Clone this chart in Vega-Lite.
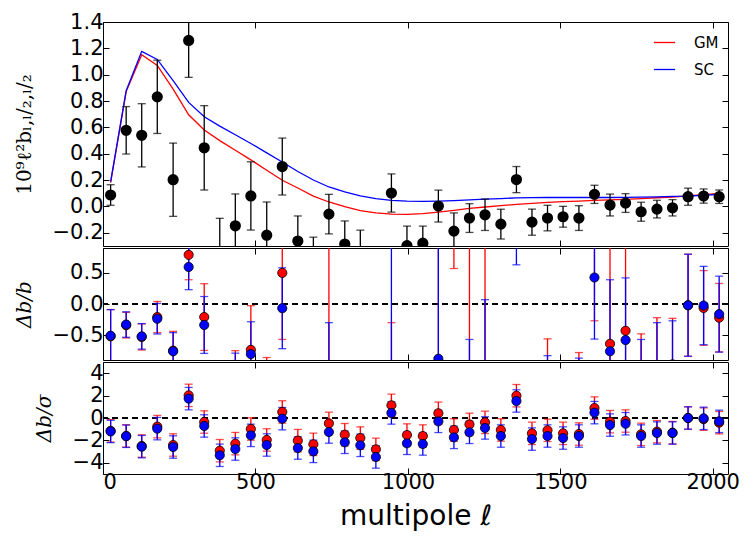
{
"$schema": "https://vega.github.io/schema/vega-lite/v6.json",
"padding": {"left": 13, "top": 10, "right": 5, "bottom": 5},
"spacing": 0,
"config": {
  "view": {"stroke": "black", "strokeWidth": 1},
  "font": "DejaVu Sans",
  "axis": {"grid": false, "domain": false, "tickColor": "black", "tickSize": -6, "tickWidth": 1, "labelFont": "DejaVu Sans", "labelFontSize": 21, "labelColor": "black", "titleColor": "black", "titleFontWeight": "normal", "labelPadding": 3},
  "axisLeft": {"labelPadding": 6, "titlePadding": 18, "titleFont": "DejaVu Serif", "titleFontSize": 20}
},
"datasets": {
  "top": [
    {"l":25,"v":0.087,"e":0.078},{"l":76,"v":0.578,"e":0.18},{"l":127,"v":0.54,"e":0.24},{"l":178,"v":0.832,"e":0.278},
    {"l":230,"v":0.203,"e":0.278},{"l":281,"v":1.26,"e":0.28},{"l":332,"v":0.445,"e":0.32},{"l":383,"v":-0.4,"e":0.31},
    {"l":434,"v":-0.147,"e":0.242},{"l":485,"v":0.08,"e":0.259},{"l":537,"v":-0.218,"e":0.252},{"l":588,"v":0.303,"e":0.216},
    {"l":639,"v":-0.262,"e":0.19},{"l":690,"v":-0.465,"e":0.232},{"l":741,"v":-0.058,"e":0.15},{"l":793,"v":-0.285,"e":0.175},
    {"l":844,"v":-0.367,"e":0.187},{"l":895,"v":-0.496,"e":0.16},{"l":946,"v":0.102,"e":0.145},{"l":997,"v":-0.297,"e":0.148},
    {"l":1049,"v":-0.279,"e":0.13},{"l":1100,"v":0.003,"e":0.121},{"l":1151,"v":-0.187,"e":0.138},{"l":1202,"v":-0.088,"e":0.109},
    {"l":1253,"v":-0.063,"e":0.119},{"l":1305,"v":-0.134,"e":0.113},{"l":1356,"v":0.204,"e":0.099},{"l":1407,"v":-0.119,"e":0.099},
    {"l":1458,"v":-0.088,"e":0.097},{"l":1509,"v":-0.078,"e":0.079},{"l":1561,"v":-0.088,"e":0.094},{"l":1612,"v":0.092,"e":0.069},
    {"l":1663,"v":0.011,"e":0.083},{"l":1714,"v":0.026,"e":0.071},{"l":1765,"v":-0.04,"e":0.072},{"l":1817,"v":-0.02,"e":0.067},
    {"l":1868,"v":-0.01,"e":0.062},{"l":1919,"v":0.074,"e":0.065},{"l":1970,"v":0.079,"e":0.054},{"l":2021,"v":0.074,"e":0.051}
  ],
  "mod": [
    {"l":25,"m":"GM","v":0.181},{"l":76,"m":"GM","v":0.872},{"l":127,"m":"GM","v":1.151},{"l":178,"m":"GM","v":1.07},
    {"l":230,"m":"GM","v":0.89},{"l":281,"m":"GM","v":0.696},{"l":332,"m":"GM","v":0.58},{"l":383,"m":"GM","v":0.5},
    {"l":434,"m":"GM","v":0.427},{"l":485,"m":"GM","v":0.354},{"l":537,"m":"GM","v":0.275},{"l":588,"m":"GM","v":0.199},
    {"l":639,"m":"GM","v":0.14},{"l":690,"m":"GM","v":0.079},{"l":741,"m":"GM","v":0.034},{"l":793,"m":"GM","v":-0.002},
    {"l":844,"m":"GM","v":-0.032},{"l":895,"m":"GM","v":-0.048},{"l":946,"m":"GM","v":-0.058},{"l":997,"m":"GM","v":-0.06},
    {"l":1049,"m":"GM","v":-0.055},{"l":1100,"m":"GM","v":-0.043},{"l":1151,"m":"GM","v":-0.03},{"l":1202,"m":"GM","v":-0.015},
    {"l":1253,"m":"GM","v":-0.004},{"l":1305,"m":"GM","v":0.006},{"l":1356,"m":"GM","v":0.016},{"l":1407,"m":"GM","v":0.024},
    {"l":1458,"m":"GM","v":0.031},{"l":1509,"m":"GM","v":0.037},{"l":1561,"m":"GM","v":0.041},{"l":1612,"m":"GM","v":0.046},
    {"l":1663,"m":"GM","v":0.05},{"l":1714,"m":"GM","v":0.054},{"l":1765,"m":"GM","v":0.06},{"l":1817,"m":"GM","v":0.066},
    {"l":1868,"m":"GM","v":0.072},{"l":1919,"m":"GM","v":0.08},{"l":1970,"m":"GM","v":0.09},{"l":2021,"m":"GM","v":0.1},
    {"l":25,"m":"SC","v":0.189},{"l":76,"m":"SC","v":0.879},{"l":127,"m":"SC","v":1.177},{"l":178,"m":"SC","v":1.116},
    {"l":230,"m":"SC","v":0.955},{"l":281,"m":"SC","v":0.79},{"l":332,"m":"SC","v":0.681},{"l":383,"m":"SC","v":0.61},
    {"l":434,"m":"SC","v":0.544},{"l":485,"m":"SC","v":0.478},{"l":537,"m":"SC","v":0.407},{"l":588,"m":"SC","v":0.338},
    {"l":639,"m":"SC","v":0.265},{"l":690,"m":"SC","v":0.201},{"l":741,"m":"SC","v":0.148},{"l":793,"m":"SC","v":0.11},
    {"l":844,"m":"SC","v":0.08},{"l":895,"m":"SC","v":0.059},{"l":946,"m":"SC","v":0.046},{"l":997,"m":"SC","v":0.04},
    {"l":1049,"m":"SC","v":0.039},{"l":1100,"m":"SC","v":0.041},{"l":1151,"m":"SC","v":0.045},{"l":1202,"m":"SC","v":0.05},
    {"l":1253,"m":"SC","v":0.055},{"l":1305,"m":"SC","v":0.06},{"l":1356,"m":"SC","v":0.065},{"l":1407,"m":"SC","v":0.067},
    {"l":1458,"m":"SC","v":0.068},{"l":1509,"m":"SC","v":0.068},{"l":1561,"m":"SC","v":0.068},{"l":1612,"m":"SC","v":0.068},
    {"l":1663,"m":"SC","v":0.068},{"l":1714,"m":"SC","v":0.069},{"l":1765,"m":"SC","v":0.071},{"l":1817,"m":"SC","v":0.073},
    {"l":1868,"m":"SC","v":0.076},{"l":1919,"m":"SC","v":0.079},{"l":1970,"m":"SC","v":0.085},{"l":2021,"m":"SC","v":0.092}
  ],
  "cmp": [
    {"l":25,"m":"GM","r":-0.52,"re":0.43,"s":-1.15,"se":1},{"l":76,"m":"GM","r":-0.34,"re":0.206,"s":-1.6,"se":1},
    {"l":127,"m":"GM","r":-0.53,"re":0.21,"s":-2.5,"se":1},{"l":178,"m":"GM","r":-0.21,"re":0.25,"s":-0.77,"se":1},
    {"l":230,"m":"GM","r":-0.75,"re":0.31,"s":-2.41,"se":1},{"l":281,"m":"GM","r":0.79,"re":0.4,"s":2.02,"se":1},
    {"l":332,"m":"GM","r":-0.21,"re":0.536,"s":-0.36,"se":1},{"l":383,"m":"GM","r":-1.79,"re":0.61,"s":-2.92,"se":1},
    {"l":434,"m":"GM","r":-1.33,"re":0.58,"s":-2.29,"se":1},{"l":485,"m":"GM","r":-0.737,"re":0.71,"s":-0.98,"se":1},
    {"l":537,"m":"GM","r":-1.79,"re":0.93,"s":-1.96,"se":1},{"l":588,"m":"GM","r":0.5,"re":1.07,"s":0.54,"se":1},
    {"l":639,"m":"GM","r":-2.86,"re":1.36,"s":-2.02,"se":1},{"l":690,"m":"GM","r":-6.9,"re":2.9,"s":-2.35,"se":1},
    {"l":741,"m":"GM","r":-2.7,"re":4.4,"s":-0.48,"se":1},{"l":793,"m":"GM","r":5.4,"re":3.6,"s":-1.49,"se":1},
    {"l":844,"m":"GM","r":10.5,"re":5.8,"s":-1.79,"se":1},{"l":895,"m":"GM","r":9.3,"re":3.3,"s":-2.8,"se":1},
    {"l":946,"m":"GM","r":-2.76,"re":2.46,"s":1.13,"se":1},{"l":997,"m":"GM","r":3.95,"re":2.5,"s":-1.52,"se":1},
    {"l":1049,"m":"GM","r":4.1,"re":2.4,"s":-1.61,"se":1},{"l":1100,"m":"GM","r":-1.07,"re":2.8,"s":0.42,"se":1},
    {"l":1151,"m":"GM","r":5.2,"re":4.63,"s":-1.07,"se":1},{"l":1202,"m":"GM","r":4.9,"re":7.3,"s":-0.57,"se":1},
    {"l":1253,"m":"GM","r":15,"re":30,"s":-0.39,"se":1},{"l":1305,"m":"GM","r":12,"re":10,"s":-1.07,"se":1},
    {"l":1356,"m":"GM","r":12,"re":6,"s":1.99,"se":1},{"l":1407,"m":"GM","r":-5.8,"re":4,"s":-1.37,"se":1},
    {"l":1458,"m":"GM","r":-3.6,"re":3.04,"s":-1.1,"se":1},{"l":1509,"m":"GM","r":-3.17,"re":2.2,"s":-1.37,"se":1},
    {"l":1561,"m":"GM","r":-3.15,"re":2.37,"s":-1.43,"se":1},{"l":1612,"m":"GM","r":1.2,"re":1.47,"s":0.89,"se":1},
    {"l":1663,"m":"GM","r":-0.64,"re":1.75,"s":-0.33,"se":1},{"l":1714,"m":"GM","r":-0.43,"re":1.5,"s":-0.27,"se":1},
    {"l":1765,"m":"GM","r":-1.78,"re":1.3,"s":-1.46,"se":1},{"l":1817,"m":"GM","r":-1.22,"re":1.0,"s":-1.22,"se":1},
    {"l":1868,"m":"GM","r":-0.97,"re":0.74,"s":-1.31,"se":1},{"l":1919,"m":"GM","r":-0.02,"re":0.82,"s":0.0,"se":1},
    {"l":1970,"m":"GM","r":-0.063,"re":0.6,"s":-0.1,"se":1},{"l":2021,"m":"GM","r":-0.22,"re":0.55,"s":-0.42,"se":1},
    {"l":25,"m":"SC","r":-0.51,"re":0.42,"s":-1.2,"se":1},{"l":76,"m":"SC","r":-0.33,"re":0.205,"s":-1.63,"se":1},
    {"l":127,"m":"SC","r":-0.52,"re":0.205,"s":-2.56,"se":1},{"l":178,"m":"SC","r":-0.237,"re":0.245,"s":-0.95,"se":1},
    {"l":230,"m":"SC","r":-0.76,"re":0.3,"s":-2.59,"se":1},{"l":281,"m":"SC","r":0.595,"re":0.365,"s":1.73,"se":1},
    {"l":332,"m":"SC","r":-0.337,"re":0.457,"s":-0.71,"se":1},{"l":383,"m":"SC","r":-1.65,"re":0.5,"s":-3.33,"se":1},
    {"l":434,"m":"SC","r":-1.25,"re":0.46,"s":-2.77,"se":1},{"l":485,"m":"SC","r":-0.805,"re":0.52,"s":-1.55,"se":1},
    {"l":537,"m":"SC","r":-1.54,"re":0.6,"s":-2.41,"se":1},{"l":588,"m":"SC","r":-0.068,"re":0.65,"s":-0.06,"se":1},
    {"l":639,"m":"SC","r":-1.98,"re":0.72,"s":-2.68,"se":1},{"l":690,"m":"SC","r":-3.3,"re":1.15,"s":-2.98,"se":1},
    {"l":741,"m":"SC","r":-1.42,"re":1.12,"s":-1.25,"se":1},{"l":793,"m":"SC","r":-3.6,"re":1.6,"s":-2.17,"se":1},
    {"l":844,"m":"SC","r":-5.6,"re":2.3,"s":-2.44,"se":1},{"l":895,"m":"SC","r":-9.4,"re":2.7,"s":-3.48,"se":1},
    {"l":946,"m":"SC","r":1.22,"re":3.15,"s":0.45,"se":1},{"l":997,"m":"SC","r":-8.4,"re":3.7,"s":-2.26,"se":1},
    {"l":1049,"m":"SC","r":-8.2,"re":3.3,"s":-2.32,"se":1},{"l":1100,"m":"SC","r":-0.88,"re":2.95,"s":-0.3,"se":1},
    {"l":1151,"m":"SC","r":-5.2,"re":3.1,"s":-1.73,"se":1},{"l":1202,"m":"SC","r":-2.77,"re":2.2,"s":-1.28,"se":1},
    {"l":1253,"m":"SC","r":-2.05,"re":2.12,"s":-0.89,"se":1},{"l":1305,"m":"SC","r":-3.6,"re":2.2,"s":-1.61,"se":1},
    {"l":1356,"m":"SC","r":2.05,"re":1.42,"s":1.52,"se":1},{"l":1407,"m":"SC","r":-2.75,"re":1.46,"s":-1.88,"se":1},
    {"l":1458,"m":"SC","r":-2.25,"re":1.42,"s":-1.61,"se":1},{"l":1509,"m":"SC","r":-2.15,"re":1.17,"s":-1.79,"se":1},
    {"l":1561,"m":"SC","r":-2.3,"re":1.43,"s":-1.61,"se":1},{"l":1612,"m":"SC","r":0.426,"re":0.99,"s":0.48,"se":1},
    {"l":1663,"m":"SC","r":-0.76,"re":1.15,"s":-0.63,"se":1},{"l":1714,"m":"SC","r":-0.58,"re":1.0,"s":-0.51,"se":1},
    {"l":1765,"m":"SC","r":-1.67,"re":1.1,"s":-1.61,"se":1},{"l":1817,"m":"SC","r":-1.18,"re":0.88,"s":-1.34,"se":1},
    {"l":1868,"m":"SC","r":-1.06,"re":0.79,"s":-1.34,"se":1},{"l":1919,"m":"SC","r":-0.02,"re":0.82,"s":0.0,"se":1},
    {"l":1970,"m":"SC","r":-0.025,"re":0.63,"s":-0.03,"se":1},{"l":2021,"m":"SC","r":-0.163,"re":0.61,"s":-0.3,"se":1}
  ]
},
"vconcat": [
  {
    "width": 625, "height": 224,
    "resolve": {"axis": {"x": "independent", "y": "independent"}},
    "layer": [
      {
        "data": {"name": "mod"},
        "mark": {"type": "line", "clip": true, "strokeWidth": 1.3},
        "encoding": {
          "x": {"field": "l", "type": "quantitative", "scale": {"domain": [0, 2050], "nice": false}, "axis": {"orient": "bottom", "values": [0, 500, 1000, 1500, 2000], "labels": false, "title": null}},
          "y": {"field": "v", "type": "quantitative", "scale": {"domain": [-0.3, 1.4], "nice": false, "zero": false}, "axis": {"orient": "left", "values": [-0.2, 0, 0.2, 0.4, 0.6, 0.8, 1.0, 1.2, 1.4], "format": ".1f", "title": "10⁹ℓ²bₗ,ₗ/₂,ₗ/₂"}},
          "color": {"field": "m", "type": "nominal", "scale": {"domain": ["GM", "SC"], "range": ["red", "blue"]}, "legend": {"orient": "top-right", "title": null, "symbolType": "stroke", "symbolSize": 450, "symbolStrokeWidth": 1.3, "labelFontSize": 15, "labelOffset": 18, "offset": 9, "rowPadding": 7, "padding": 0}}
        }
      },
      {
        "data": {"name": "top"},
        "mark": {"type": "errorbar", "clip": true, "color": "black", "thickness": 1.3, "ticks": {"size": 8}},
        "encoding": {
          "x": {"field": "l", "type": "quantitative", "scale": {"domain": [0, 2050], "nice": false}, "axis": {"orient": "top", "values": [0, 500, 1000, 1500, 2000], "labels": false, "title": null}},
          "y": {"field": "v", "type": "quantitative", "scale": {"domain": [-0.3, 1.4], "nice": false, "zero": false}, "axis": {"orient": "right", "values": [-0.2, 0, 0.2, 0.4, 0.6, 0.8, 1.0, 1.2, 1.4], "labels": false, "title": null}},
          "yError": {"field": "e"}
        }
      },
      {
        "data": {"name": "top"},
        "mark": {"type": "point", "clip": true, "filled": true, "shape": "circle", "size": 85, "fill": "black", "stroke": "black", "opacity": 1},
        "encoding": {
          "x": {"field": "l", "type": "quantitative", "axis": null},
          "y": {"field": "v", "type": "quantitative", "axis": null}
        }
      }
    ]
  },
  {
    "width": 625, "height": 112,
    "resolve": {"axis": {"x": "independent", "y": "independent"}},
    "data": {"name": "cmp"},
    "layer": [
      {
        "mark": {"type": "rule", "strokeDash": [6, 4], "color": "black", "strokeWidth": 1.2},
        "encoding": {"y": {"datum": 0, "type": "quantitative", "axis": null}}
      },
      {
        "transform": [{"filter": "datum.m == 'GM'"}],
        "mark": {"type": "errorbar", "clip": true, "color": "red", "thickness": 1.3, "ticks": {"size": 8}},
        "encoding": {
          "x": {"field": "l", "type": "quantitative", "scale": {"domain": [0, 2050], "nice": false}, "axis": {"orient": "bottom", "values": [0, 500, 1000, 1500, 2000], "labels": false, "title": null}},
          "y": {"field": "r", "type": "quantitative", "scale": {"domain": [-0.9, 0.9], "nice": false, "zero": false}, "axis": {"orient": "left", "values": [-0.5, 0, 0.5], "format": ".1f", "title": "Δb/b", "titleFontStyle": "italic"}},
          "yError": {"field": "re"}
        }
      },
      {
        "transform": [{"filter": "datum.m == 'SC'"}],
        "mark": {"type": "errorbar", "clip": true, "color": "blue", "thickness": 1.3, "ticks": {"size": 8}},
        "encoding": {
          "x": {"field": "l", "type": "quantitative", "scale": {"domain": [0, 2050], "nice": false}, "axis": {"orient": "top", "values": [0, 500, 1000, 1500, 2000], "labels": false, "title": null}},
          "y": {"field": "r", "type": "quantitative", "axis": {"orient": "right", "values": [-0.5, 0, 0.5], "labels": false, "title": null}},
          "yError": {"field": "re"}
        }
      },
      {
        "transform": [{"filter": "datum.m == 'GM'"}],
        "mark": {"type": "point", "clip": true, "filled": true, "shape": "circle", "size": 85, "fill": "red", "stroke": "black", "strokeWidth": 0.8, "opacity": 1},
        "encoding": {"x": {"field": "l", "type": "quantitative", "axis": null}, "y": {"field": "r", "type": "quantitative", "axis": null}}
      },
      {
        "transform": [{"filter": "datum.m == 'SC'"}],
        "mark": {"type": "point", "clip": true, "filled": true, "shape": "circle", "size": 85, "fill": "blue", "stroke": "black", "strokeWidth": 0.8, "opacity": 1},
        "encoding": {"x": {"field": "l", "type": "quantitative", "axis": null}, "y": {"field": "r", "type": "quantitative", "axis": null}}
      }
    ]
  },
  {
    "width": 625, "height": 112,
    "resolve": {"axis": {"x": "independent", "y": "independent"}},
    "data": {"name": "cmp"},
    "layer": [
      {
        "mark": {"type": "rule", "strokeDash": [6, 4], "color": "black", "strokeWidth": 1.2},
        "encoding": {"y": {"datum": 0, "type": "quantitative", "axis": null}}
      },
      {
        "transform": [{"filter": "datum.m == 'GM'"}],
        "mark": {"type": "errorbar", "clip": true, "color": "red", "thickness": 1.3, "ticks": {"size": 8}},
        "encoding": {
          "x": {"field": "l", "type": "quantitative", "scale": {"domain": [0, 2050], "nice": false}, "axis": {"orient": "bottom", "values": [0, 500, 1000, 1500, 2000], "format": "d", "title": "multipole ℓ", "titleFontSize": 28, "titlePadding": 10}},
          "y": {"field": "s", "type": "quantitative", "scale": {"domain": [-5, 5], "nice": false, "zero": false}, "axis": {"orient": "left", "values": [-4, -2, 0, 2, 4], "title": "Δb/σ", "titleFontStyle": "italic"}},
          "yError": {"field": "se"}
        }
      },
      {
        "transform": [{"filter": "datum.m == 'SC'"}],
        "mark": {"type": "errorbar", "clip": true, "color": "blue", "thickness": 1.3, "ticks": {"size": 8}},
        "encoding": {
          "x": {"field": "l", "type": "quantitative", "scale": {"domain": [0, 2050], "nice": false}, "axis": {"orient": "top", "values": [0, 500, 1000, 1500, 2000], "labels": false, "title": null}},
          "y": {"field": "s", "type": "quantitative", "axis": {"orient": "right", "values": [-4, -2, 0, 2, 4], "labels": false, "title": null}},
          "yError": {"field": "se"}
        }
      },
      {
        "transform": [{"filter": "datum.m == 'GM'"}],
        "mark": {"type": "point", "clip": true, "filled": true, "shape": "circle", "size": 85, "fill": "red", "stroke": "black", "strokeWidth": 0.8, "opacity": 1},
        "encoding": {"x": {"field": "l", "type": "quantitative", "axis": null}, "y": {"field": "s", "type": "quantitative", "axis": null}}
      },
      {
        "transform": [{"filter": "datum.m == 'SC'"}],
        "mark": {"type": "point", "clip": true, "filled": true, "shape": "circle", "size": 85, "fill": "blue", "stroke": "black", "strokeWidth": 0.8, "opacity": 1},
        "encoding": {"x": {"field": "l", "type": "quantitative", "axis": null}, "y": {"field": "s", "type": "quantitative", "axis": null}}
      }
    ]
  }
]
}
